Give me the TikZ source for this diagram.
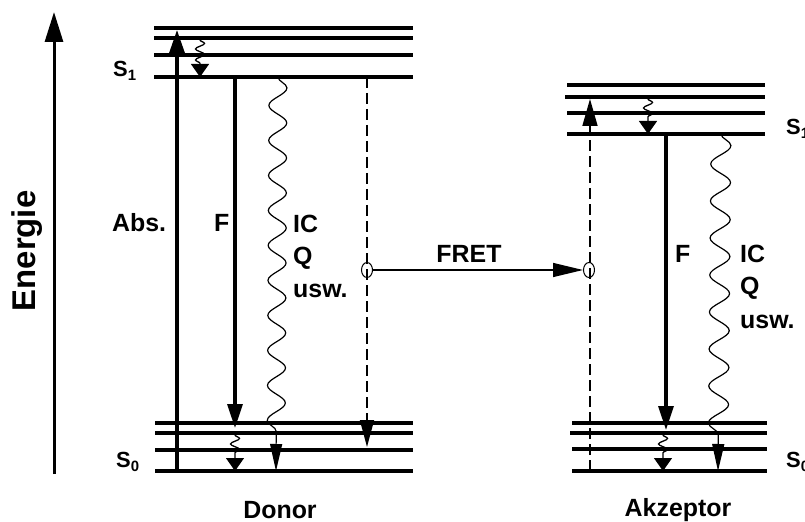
\documentclass[tikz,border=0pt]{standalone}
\usepackage{fontspec}
\setmainfont{Liberation Sans}
\usetikzlibrary{arrows.meta,decorations.pathmorphing,shapes.geometric}
\newcommand{\lbl}{\fontsize{25}{28}\bfseries\selectfont}
\newcommand{\slbl}[1]{{\fontsize{22}{24}\bfseries\selectfont S\raisebox{-4bp}{\fontsize{15}{15}\selectfont #1}}}
\tikzset{
  level/.style={line width=3.2bp},
  thickarr/.style={line width=3.3bp,-{Triangle[width=17bp,length=26bp]}},
  smallwave/.style={line width=1.3bp,-{Triangle[width=18bp,length=13bp]},decorate,
     decoration={snake,amplitude=4.5bp,segment length=11bp,pre length=2bp,post length=13bp}},
  icwave/.style={line width=1.2bp,-{Triangle[width=12bp,length=27bp]},decorate,
     decoration={snake,amplitude=9bp,segment length=35bp,post length=27bp}},
  dasharr/.style={line width=1.7bp,dash pattern=on 11bp off 5bp,-{Triangle[width=14bp,length=27bp]}},
  fretarr/.style={line width=1.3bp,-{Triangle[width=14bp,length=30bp]}},
  ell/.style={ellipse,draw,line width=1bp,minimum width=11bp,minimum height=15bp,inner sep=0pt},
  txt/.style={inner sep=0pt,font=\lbl},
}
\begin{document}
\begin{tikzpicture}[x=1bp,y=-1bp]
\useasboundingbox (0,0) rectangle (805,522);
\clip (0,0) rectangle (805,522);
% energy axis
\coordinate (eB) at (54,474);
\coordinate (eT) at (54,12);
\draw[line width=3bp,-{Triangle[width=18bp,length=30bp]}] (eB) -- (eT);
\node[txt,font=\fontsize{33}{36}\bfseries\selectfont,rotate=90] (energie) at (27,251) {Energie};
% donor levels
\foreach \y [count=\i] in {28,38,55,77} {
  \coordinate (dUl\i) at (154,\y); \coordinate (dUr\i) at (413,\y);
  \draw[level] (dUl\i) -- (dUr\i);
}
\foreach \y [count=\i] in {423,433,450,471} {
  \coordinate (dLl\i) at (155,\y); \coordinate (dLr\i) at (413,\y);
  \draw[level] (dLl\i) -- (dLr\i);
}
% acceptor levels
\foreach \y/\xa [count=\i] in {85/567,97/565,113/567,134/567} {
  \coordinate (aUl\i) at (\xa,\y); \coordinate (aUr\i) at (765,\y);
  \draw[level] (aUl\i) -- (aUr\i);
}
\foreach \y/\xa [count=\i] in {423/572,433/570,449/572,471/572} {
  \coordinate (aLl\i) at (\xa,\y); \coordinate (aLr\i) at (767,\y);
  \draw[level] (aLl\i) -- (aLr\i);
}
% donor transitions
\coordinate (absB) at (177,471); \coordinate (absT) at (177,30);
\draw[thickarr] (absB) -- (absT);
\coordinate (dw1a) at (200,38); \coordinate (dw1b) at (200,77);
\draw[smallwave] (dw1a) -- (dw1b);
\coordinate (dFa) at (235,77); \coordinate (dFb) at (235,428);
\draw[thickarr,-{Triangle[width=15bp,length=24bp]}] (dFa) -- (dFb);
\coordinate (dw2a) at (235,433); \coordinate (dw2b) at (235,471);
\draw[smallwave] (dw2a) -- (dw2b);
\coordinate (dICa) at (278,77); \coordinate (dICb) at (276,471);
\draw[icwave] (dICa) -- (dICb);
\coordinate (dDa) at (367,77); \coordinate (dDb) at (367,447);
\draw[dasharr] (dDa) -- (dDb);
% acceptor transitions
\coordinate (aDa) at (590,471); \coordinate (aDb) at (590,99);
\draw[dasharr,-{Triangle[width=15bp,length=27bp]}] (aDa) -- (aDb);
\coordinate (aw1a) at (648,97); \coordinate (aw1b) at (648,134);
\draw[smallwave] (aw1a) -- (aw1b);
\coordinate (aFa) at (666,134); \coordinate (aFb) at (666,430);
\draw[thickarr,-{Triangle[width=15bp,length=24bp]}] (aFa) -- (aFb);
\coordinate (aw2a) at (663,433); \coordinate (aw2b) at (663,471);
\draw[smallwave] (aw2a) -- (aw2b);
\coordinate (aICa) at (721,134); \coordinate (aICb) at (718,471);
\draw[icwave,decoration={snake,amplitude=10bp,segment length=37bp,post length=26bp}] (aICa) -- (aICb);
% FRET
\node[ell] (e1) at (367,270) {};
\node[ell] (e2) at (589,270) {};
\draw[fretarr] (e1.east) -- (e2.west);
\node[txt,anchor=base] (fret) at (469,263) {FRET};
% labels
\node[txt,anchor=base west] (abs) at (112,232) {Abs.};
\node[txt,anchor=base west] (dF) at (214,232) {F};
\node[txt,anchor=base west] (dIC) at (293,233) {IC};
\node[txt,anchor=base west] (dQ) at (293,265) {Q};
\node[txt,anchor=base west] (dusw) at (293,298) {usw.};
\node[txt,anchor=base west] (aF) at (675,263) {F};
\node[txt,anchor=base west] (aIC) at (740,263) {IC};
\node[txt,anchor=base west] (aQ) at (740,295) {Q};
\node[txt,anchor=base west] (ausw) at (740,328) {usw.};
\node[inner sep=0pt,anchor=base west] (dS1) at (113,77) {\slbl{1}};
\node[inner sep=0pt,anchor=base west] (dS0) at (116,467) {\slbl{0}};
\node[inner sep=0pt,anchor=base west] (aS1) at (786,135) {\slbl{1}};
\node[inner sep=0pt,anchor=base west] (aS0) at (786,467) {\slbl{0}};
\node[txt,anchor=base] (donor) at (280,518) {Donor};
\node[txt,anchor=base] (akz) at (678,516) {Akzeptor};
\end{tikzpicture}
\end{document}
